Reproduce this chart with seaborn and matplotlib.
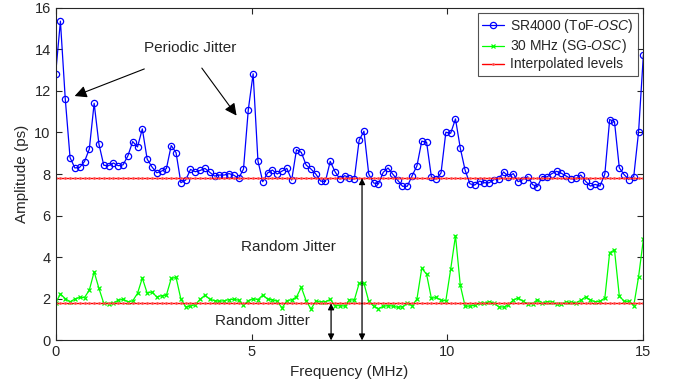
import matplotlib
matplotlib.use('Agg')
import matplotlib.pyplot as plt
import seaborn as sns
import numpy as np

# Frequency grid (123 equally spaced bins from 0 to 15 MHz)
freq = np.linspace(0, 15, 123)

sr4000 = [12.8, 15.35, 11.63, 8.79, 8.29, 8.32, 8.6, 9.2, 11.4, 9.43,
          8.42, 8.4, 8.53, 8.4, 8.44, 8.87, 9.56, 9.3, 10.17, 8.72,
          8.34, 8.06, 8.14, 8.26, 9.37, 9.03, 7.58, 7.71, 8.22, 8.11,
          8.17, 8.27, 8.08, 7.9, 7.95, 7.95, 8.02, 7.94, 7.79, 8.24,
          11.1, 12.82, 8.63, 7.63, 8.05, 8.19, 8.0, 8.14, 8.27, 7.71,
          9.17, 9.04, 8.43, 8.24, 8.0, 7.66, 7.64, 8.61, 8.11, 7.76,
          7.92, 7.82, 7.76, 9.62, 10.06, 7.99, 7.57, 7.52, 8.08, 8.29,
          7.99, 7.7, 7.41, 7.41, 7.92, 8.39, 9.58, 9.53, 7.86, 7.76,
          8.05, 10.01, 9.96, 10.65, 9.24, 8.18, 7.53, 7.47, 7.66, 7.58,
          7.58, 7.73, 7.78, 8.1, 7.87, 8.02, 7.63, 7.73, 7.87, 7.49,
          7.39, 7.88, 7.86, 8.02, 8.13, 8.03, 7.9, 7.76, 7.79, 7.95,
          7.65, 7.42, 7.5, 7.42, 8.0, 10.62, 10.52, 8.3, 7.97, 7.73,
          7.88, 10.02, 13.73]

sg30 = [1.8, 2.23, 2.01, 1.86, 1.99, 2.07, 2.06, 2.42, 3.3, 2.5,
        1.78, 1.77, 1.8, 1.93, 1.98, 1.86, 1.9, 2.26, 3.0, 2.28,
        2.33, 2.09, 2.15, 2.18, 2.98, 3.03, 1.99, 1.61, 1.65, 1.72,
        1.98, 2.17, 1.98, 1.91, 1.88, 1.91, 1.96, 1.98, 1.93, 1.69,
        1.91, 2.01, 1.96, 2.18, 1.98, 1.96, 1.88, 1.56, 1.91, 1.95,
        2.09, 2.55, 1.91, 1.51, 1.88, 1.85, 1.86, 1.97, 1.67, 1.67,
        1.65, 1.95, 1.94, 2.74, 2.74, 1.88, 1.65, 1.53, 1.64, 1.67,
        1.65, 1.59, 1.62, 1.78, 1.67, 1.99, 3.47, 3.18, 2.02, 2.07,
        1.93, 1.91, 3.42, 5.03, 2.65, 1.64, 1.65, 1.69, 1.78, 1.78,
        1.86, 1.78, 1.62, 1.6, 1.72, 1.94, 2.04, 1.88, 1.75, 1.77,
        1.96, 1.81, 1.86, 1.85, 1.74, 1.75, 1.83, 1.83, 1.81, 1.93,
        2.09, 1.94, 1.86, 1.88, 2.04, 4.22, 4.35, 2.14, 1.88, 1.88,
        1.67, 3.06, 4.86]

# Interpolated jitter levels
level_sr4000 = 7.8
level_sg30 = 1.78

sns.set_style('ticks')
plt.rcParams['font.family'] = ['Liberation Sans', 'DejaVu Sans']
plt.rcParams['mathtext.fontset'] = 'custom'
plt.rcParams['mathtext.it'] = 'Liberation Sans:italic'
plt.rcParams['mathtext.rm'] = 'Liberation Sans'

fig = plt.figure(figsize=(6.83, 3.92), dpi=100)
ax = fig.add_axes([0.0814, 0.1316, 0.8606, 0.849])

sns.lineplot(x=freq, y=sr4000, ax=ax, color='#0000ff', lw=0.9,
             marker='o', markersize=4.5, markerfacecolor='none',
             markeredgecolor='#0000ff', markeredgewidth=0.9,
             label=r'SR4000 (ToF-$\it{OSC}$)')
sns.lineplot(x=freq, y=sg30, ax=ax, color='#00ff00', lw=0.9,
             marker='x', markersize=3.5, markeredgecolor='#00ff00',
             markeredgewidth=0.9, label=r'30 MHz (SG-$\it{OSC}$)')
# levels drawn with small dot markers on each bin, like the original
sns.lineplot(x=freq, y=[level_sr4000] * len(freq), ax=ax, color='red',
             lw=1.0, marker='.', markersize=2.5, markeredgecolor='#ff6060',
             label='Interpolated levels')
sns.lineplot(x=freq, y=[level_sg30] * len(freq), ax=ax, color='red',
             lw=1.0, marker='.', markersize=2.5, markeredgecolor='#ff6060')

ax.set_xlim(0, 15)
ax.set_ylim(0, 16)
ax.set_xticks([0, 5, 10, 15])
ax.set_yticks(range(0, 17, 2))
ax.tick_params(direction='in', top=True, right=True, length=4,
               labelsize=10.5, colors='#262626')
for s in ax.spines.values():
    s.set_color('#262626')
    s.set_linewidth(0.8)
ax.set_xlabel('Frequency (MHz)', fontsize=11, color='#262626')
ax.set_ylabel('Amplitude (ps)', fontsize=11, color='#262626')

leg = ax.legend(loc='upper right', fontsize=10, frameon=True, fancybox=False,
                borderpad=0.3, labelspacing=0.15, handlelength=1.6,
                handletextpad=0.4, borderaxespad=0.4)
leg.get_frame().set_edgecolor('#262626')
leg.get_frame().set_linewidth(0.8)

# Annotations
ax.text(3.43, 14.05, 'Periodic Jitter', fontsize=11, ha='center', va='center')
head = dict(arrowstyle='-|>', color='k', lw=0.8, mutation_scale=18)
ax.annotate('', xy=(0.42, 11.7), xytext=(2.33, 13.1), arrowprops=head)
ax.annotate('', xy=(4.66, 10.7), xytext=(3.69, 13.2), arrowprops=head)

dbl = dict(arrowstyle='<|-|>', color='k', lw=0.9, mutation_scale=9,
           shrinkA=0, shrinkB=0)
ax.annotate('', xy=(7.82, 0), xytext=(7.82, level_sr4000), arrowprops=dbl)
ax.annotate('', xy=(7.03, 0), xytext=(7.03, level_sg30), arrowprops=dbl)
ax.text(5.93, 4.5, 'Random Jitter', fontsize=11, ha='center', va='center')
ax.text(5.27, 0.93, 'Random Jitter', fontsize=11, ha='center', va='center')

fig.savefig('out.png', dpi=100)
